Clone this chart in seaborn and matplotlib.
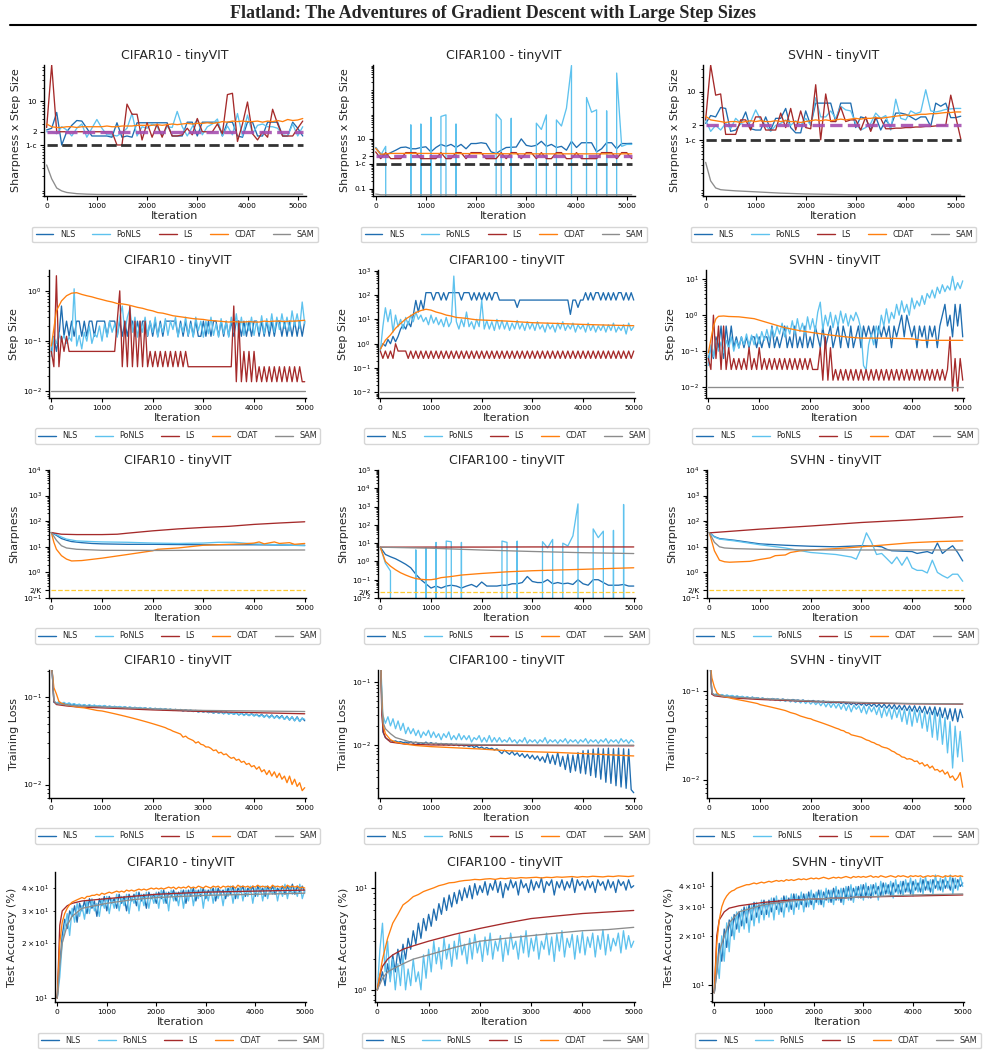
import numpy as np
import matplotlib
matplotlib.use("Agg")
import matplotlib.pyplot as plt
from matplotlib.lines import Line2D
import seaborn as sns

sns.set_style("ticks")
plt.rcParams["font.family"] = ["DejaVu Sans"]
plt.rcParams["axes.edgecolor"] = "black"
plt.rcParams["xtick.color"] = "black"
plt.rcParams["ytick.color"] = "black"
plt.rcParams["axes.linewidth"] = 1.0

SUPTITLE = "Flatland: The Adventures of Gradient Descent with Large Step Sizes"
DATASETS = ["CIFAR10 - tinyVIT", "CIFAR100 - tinyVIT", "SVHN - tinyVIT"]
METHODS = ["NLS", "PoNLS", "LS", "CDAT", "SAM"]
COLORS = {"NLS": "#1f6db0", "PoNLS": "#5ec2ee", "LS": "#a52a2a",
          "CDAT": "#ff7f0e", "SAM": "#8c8c8c"}
YLABELS = ["Sharpness x Step Size", "Step Size", "Sharpness", "Training Loss", "Test Accuracy (%)"]
XTICKS = [0, 1000, 2000, 3000, 4000, 5000]

# iteration grids
R1_ITER = np.arange(0, 5101, 100)
ITER50 = np.arange(0, 5001, 50)
ITER100 = np.arange(0, 5001, 100)

# reference levels
ONE_MINUS_C = 0.99
TWO_LEVEL = 2.0
TWO_OVER_K = [0.2, 0.02, 0.2]

# ---------------- Row 1: sharpness x step size ----------------
R1C1_NLS = [2.2,2.4,5.5,1.0,2.0,2.8,3.6,3.5,2.4,1.6, 1.6,1.6,1.6,1.5,3.2,1.5,1.6,1.5,3.2,3.2,
            3.2,3.2,3.2,3.2,3.2,1.6,1.6,1.6,3.3,3.3, 1.6,3.3,3.3,3.3,3.3,1.6,3.3,3.3,1.6,1.5,
            3.3,3.3,1.6,1.6,3.3,3.3,3.3,1.6,1.6,3.3, 2.4,1.6]
R1C1_PONLS = [2.0,2.0,1.8,2.6,2.2,1.6,2.4,3.0,1.5,2.4, 3.8,2.4,1.7,1.7,1.6,1.9,2.4,5.2,1.6,2.6,
              2.4,3.0,2.6,1.6,2.6,2.5,5.8,2.6,1.6,2.6, 3.8,1.7,2.6,3.0,3.9,1.6,2.7,1.7,5.2,1.6,
              4.8,1.8,2.8,3.0,2.6,2.6,2.4,1.7,1.6,3.0, 1.6,2.6]
R1C1_LS = [2.5,66,2.0,2.0,2.0,2.0,2.0,2.0,2.0,2.0, 2.0,2.0,2.0,2.0,1.0,1.0,8.5,5.0,5.0,1.3,
           3.2,1.5,3.0,1.5,3.0,1.6,1.6,1.7,2.4,1.7, 4.0,2.0,2.0,2.0,3.0,1.8,14,15,1.2,3.0,
           9.5,1.8,1.3,2.0,1.5,6.5,3.0,1.6,1.6,1.6, 2.4,3.5]
R1C1_CDAT = [3.0,2.6,2.5,2.5,2.6,2.6,2.5,2.6,2.6,2.6, 2.6,2.6,2.7,2.6,2.6,2.7,2.7,2.7,2.8,2.8,
             2.8,2.8,2.9,2.8,2.9,3.0,2.9,3.0,3.1,3.0, 3.1,3.1,3.2,3.1,3.2,3.4,3.3,3.5,3.4,3.5,
             3.4,3.4,3.5,3.3,3.5,3.4,3.6,3.4,3.8,3.6, 3.7,4.0]
R1C1_SAM_X = [0,100,200,300,400,600,800,1000,2000,3000,4000,5100]
R1C1_SAM = [0.35,0.17,0.105,0.09,0.083,0.078,0.076,0.075,0.075,0.075,0.077,0.076]

R1C2_NLS = [4.5,2.5,2.2,2.8,3.5,4.5,4.7,4.0,4.0,4.5, 4.8,3.0,4.5,6.0,5.0,6.0,4.5,6.0,4.0,6.5,
            6.5,7.0,6.5,3.0,2.6,3.5,4.5,4.6,4.7,10, 5.5,5.0,5.5,8.0,5.0,6.0,4.5,5.0,3.5,8.0,
            4.5,7.0,7.0,7.0,3.0,4.0,7.0,7.0,4.0,6.5, 6.5,6.6]
R1C2_PONLS = [4.5,2.2,5.0,0,0,0,0,37,0,40, 0,75,0,80,93,0,40,0,0,0,
              0,0,0,0,100,58,0,68,0,0, 0,0,43,24,93,0,58,33,173,9000,
              0,0,465,119,148,0,135,0,4500,5.0, 6.0,6.0]
R1C2_LS = [3.0,1.6,2.8,1.6,1.6,1.6,2.8,2.8,2.8,1.6, 1.6,1.6,1.6,2.8,1.6,1.6,2.8,2.8,1.6,2.8,
           2.8,2.8,1.6,1.6,1.6,2.8,1.6,2.8,2.8,1.6, 2.8,2.8,1.6,2.8,1.6,1.6,2.8,2.8,1.6,1.6,
           2.8,1.6,1.6,1.6,1.6,2.8,2.8,2.8,1.6,2.8, 2.8,1.6]
R1C2_CDAT_X = [0,100,200,300,500,1000,2000,3000,4000,5100]
R1C2_CDAT = [4.2,2.4,2.5,2.6,2.6,2.6,2.55,2.5,2.5,2.5]
R1C2_SAM_X = [0,100,5100]
R1C2_SAM = [0.06,0.056,0.056]

R1C3_NLS = [2.2,3.2,3.0,4.7,4.5,1.5,1.6,2.2,3.8,1.7, 1.6,1.6,3.0,1.6,2.8,2.8,4.5,1.8,1.4,1.4,
            4.0,2.0,5.8,5.8,5.8,5.8,2.4,5.8,5.8,5.8, 1.8,3.0,2.8,1.6,3.0,1.6,2.6,1.9,3.6,3.6,
            3.4,3.0,2.6,3.0,3.0,1.9,5.8,5.0,5.8,2.9, 2.9,3.1]
R1C3_PONLS = [2.6,1.5,2.0,1.6,2.2,1.7,2.8,2.2,2.0,2.4, 4.2,2.6,2.0,1.5,2.0,2.2,2.6,2.0,2.5,2.0,
              2.8,2.0,7.5,3.0,3.0,4.0,2.8,5.0,4.2,4.0, 2.2,1.6,1.8,2.2,3.6,2.8,3.2,1.6,7.0,2.8,
              2.6,4.0,3.5,3.8,11,4.0,3.8,4.0,4.3,4.4, 4.5,4.5]
R1C3_LS = [2.6,36,8.5,9.0,1.3,1.3,1.3,2.6,2.6,1.6, 3.0,3.0,1.6,1.6,1.6,3.6,1.8,4.5,1.6,4.0,
           1.8,1.7,14,1.0,9.0,2.4,2.4,4.8,2.4,2.6, 2.6,1.6,3.0,1.5,2.8,2.8,1.7,1.7,1.75,1.75,
           1.8,1.8,1.85,1.85,1.9,1.9,1.95,2.0,2.0,8.5, 3.0,1.05]
R1C3_CDAT = [3.1,2.6,2.5,2.4,2.3,2.4,2.4,2.3,2.4,2.5, 2.4,2.5,2.4,2.4,2.5,2.4,2.5,2.4,2.4,2.3,
             2.4,2.5,2.6,2.5,2.6,2.5,2.6,2.7,2.6,2.7, 2.8,2.7,2.8,2.8,2.9,2.8,2.9,3.0,3.1,3.2,
             3.3,3.2,3.3,3.4,3.4,3.5,3.5,3.6,3.7,3.7, 3.8,3.8]
R1C3_SAM_X = [0,100,200,300,400,600,1000,1500,2000,3000,4000,5100]
R1C3_SAM = [0.34,0.14,0.1,0.092,0.09,0.087,0.083,0.078,0.075,0.072,0.072,0.071]

# ---------------- Row 2: step size ----------------
R2C1_NLS = ([0.0625,0.125,0.0625,0.125,0.5,0.125,0.25,0.125,0.25,0.125]
            + [0.25,0.25,0.125,0.25,0.125,0.25,0.25,0.125,0.25,0.25]
            + [0.25,0.25,0.125,0.25,0.25,0.25,0.125,0.25,0.125,0.25]
            + [0.125,0.25,0.25,0.125,0.25,0.125,0.25,0.25,0.125,0.25]
            + [0.125,0.25,0.125,0.25,0.125,0.25,0.25,0.25,0.25,0.25]
            + [0.125,0.25,0.125,0.25,0.125,0.25,0.125,0.25,0.125,0.125]
            + [0.25,0.125,0.25,0.125,0.25,0.25,0.125,0.25,0.125,0.25]
            + [0.125,0.25,0.125,0.25,0.25,0.125,0.25,0.125,0.25,0.125]
            + [0.25,0.25,0.125,0.25,0.125,0.25,0.125,0.25,0.125,0.25]
            + [0.25,0.125,0.25,0.125,0.25,0.125,0.25,0.125,0.25,0.125]
            + [0.25])
R2C1_PONLS = ([0.05,0.12,0.09,0.15,0.1,0.13,0.09,0.12,0.1,1.1]
              + [0.08,0.13,0.07,0.15,0.1,0.2,0.09,0.14,0.12,0.2]
              + [0.1,0.22,0.12,0.25,0.15,0.22,0.12,0.3,0.5,0.15]
              + [0.3,0.45,0.15,0.3,0.12,0.25,0.15,0.3,0.13,0.25]
              + [0.15,0.3,0.12,0.22,0.15,0.28,0.13,0.25,0.17,0.3]
              + [0.12,0.22,0.15,0.3,0.13,0.22,0.12,0.3,0.16,0.25]
              + [0.12,0.25,0.14,0.3,0.13,0.22,0.12,0.28,0.14,0.25]
              + [0.12,0.3,0.15,0.35,0.14,0.3,0.13,0.25,0.16,0.3]
              + [0.13,0.25,0.15,0.32,0.14,0.28,0.16,0.35,0.15,0.3]
              + [0.17,0.35,0.18,0.3,0.16,0.4,0.2,0.35,0.18,0.6]
              + [0.22])
R2C1_LS = ([0.0625,0.031,2.0,0.031,0.125,0.0625,0.125,0.0625,0.0625,0.0625]
           + [0.0625] * 10
           + [0.0625] * 6 + [0.25,1.0,0.031,0.25]
           + [0.031,0.5,0.031,0.25,0.031,0.25,0.031,0.25,0.031,0.0625]
           + [0.031,0.0625,0.031,0.0625,0.031,0.0625,0.031,0.0625,0.031,0.0625]
           + [0.031,0.0625,0.031,0.0625,0.031,0.031,0.031,0.031,0.031,0.031]
           + [0.031] * 10
           + [0.031,0.031,0.5,0.0156,0.25,0.0156,0.0625,0.0156,0.0625,0.0156]
           + [0.0625,0.0156,0.031,0.0156,0.031,0.0156,0.031,0.0156,0.031,0.0156]
           + [0.031,0.0156,0.031,0.0156,0.031,0.0156,0.031,0.0156,0.031,0.0156]
           + [0.0156])
R2C1_CDAT = [0.08,0.4,0.63,0.8,0.9,0.92,0.85,0.8,0.76,0.71, 0.67,0.63,0.6,0.56,0.55,0.53,0.5,0.47,0.45,0.42,
             0.4,0.37,0.36,0.34,0.32,0.31,0.3,0.29,0.28,0.275, 0.27,0.26,0.255,0.25,0.245,0.24,0.245,0.24,0.24,0.245,
             0.24,0.24,0.25,0.245,0.25,0.25,0.245,0.25,0.25,0.255, 0.26]
R2C1_SAM = [0.01, 0.01]

R2C2_NLS = ([0.6,1.0,0.8,1.5,1.0,2.0,1.2,2.0,4.0,6.0]
            + [4.0,8.0,5.0,15,60,20,60,25,125,125]
            + [125,62,125,125,62,125,62,125,125,125]
            + [125,125,62,125,125,125,62,125,62,125]
            + [62,125,62,125,62,125,125,62,62,62]
            + [62,62,62,62,31,62,62,62,62,62]
            + [62] * 10
            + [62,62,62,62,62,16,62,62,31,62]
            + [62,125,62,125,62,125,125,62,125,62]
            + [125,62,125,62,125,125,62,125,62,125]
            + [62])
R2C2_PONLS = ([0.5,5,30,8,25,3,15,5,10,4]
              + [12,6,15,8,20,10,15,8,12,6]
              + [15,7,12,6,10,5,12,5,8,600]
              + [8,4,10,5,20,5,8,4,10,5]
              + [60,4,9,4,8,3.5,10,4,9,4]
              + [8,3.5,7,4,9,4,7,3.5,8,4]
              + [7,3.5,8,4,6,3,7,4,6,3]
              + [7,4,8,3.5,6,4,7,3,6,4]
              + [6,3,7,3.5,6,3,5.5,3.5,6,3]
              + [6,3.5,7,3,5,3.5,6,2.5,7,3.5]
              + [5])
R2C2_LS = [0.5,0.25,0.5,0.25,0.5,0.25,1.0,0.5,0.5,0.5,0.5,0.25] + [0.5,0.25] * 44 + [0.5]
R2C2_CDAT_X = [0,100,200,300,400,500,600,700,800,900,1000,1100,1200,1300,1400,1500,1600,1700,1800,1900,
               2500,3000,3500,4000,4500,5000]
R2C2_CDAT = [0.6,1.4,2.3,4.3,6.8,10.3,14,19,23,26,24,20,17.7,15,13.7,12,11.5,11,10.2,9.6,
             8.5,7.3,6.8,6.2,5.8,5.5]
R2C2_SAM = [0.01, 0.01]

R2C3_NLS = ([0.0625,0.125,0.0625,0.25,0.125,0.5,0.0625,0.5,0.125,0.5]
            + [0.125,0.25,0.125,0.25,0.125,0.25,0.125,0.25,0.25,0.125]
            + [0.25,0.125,0.25,0.25,0.125,0.5,0.125,0.25,0.125,0.25]
            + [0.5,0.125,0.25,0.125,0.5,0.125,0.25,0.125,0.5,0.125]
            + [0.25,0.125,0.5,0.25,0.125,0.5,0.125,0.25,0.5,0.125]
            + [0.25,0.5,0.125,0.5,0.25,0.125,0.5,0.125,0.25,0.5]
            + [0.125,0.5,0.25,0.5,0.25,0.5,0.125,0.5,0.25,0.5]
            + [0.25,0.5,0.125,0.5,0.25,0.5,1.0,0.25,1.0,0.5]
            + [0.25,0.5,0.125,0.5,0.25,0.5,0.125,0.5,0.25,0.5]
            + [0.125,0.5,1.0,2.0,0.5,1.0,0.25,2.0,0.5,2.0]
            + [0.25])
R2C3_PONLS = ([0.04,0.15,0.07,0.2,0.1,0.18,0.09,0.2,0.12,0.25]
              + [0.1,0.2,0.12,0.25,0.15,0.3,0.14,0.28,0.15,0.3]
              + [0.16,0.35,0.2,0.4,0.2,0.45,0.25,0.5,0.3,0.6]
              + [0.25,0.5,0.3,0.7,0.3,0.8,0.35,0.6,0.3,0.9]
              + [0.4,0.8,0.35,1.2,2.3,0.4,1.0,0.5,1.2,0.45]
              + [1.0,0.5,1.3,0.6,1.1,0.5,1.0,0.7,1.2,0.8]
              + [0.4,0.04,0.03,0.15,0.3,0.15,0.5,0.3,1.0,0.5]
              + [1.5,0.6,1.2,0.8,2.0,1.0,2.5,1.2,2.0,1.0]
              + [3.0,1.5,2.5,1.8,3.5,2.0,4.0,3.0,5.0,3.0]
              + [6.0,4.0,7.0,4.5,6.5,5.0,12,5.0,8.0,5.5]
              + [9.0])
R2C3_LS = ([0.0625,0.031,1.0,0.0625,0.5,0.031,0.5,0.031,0.125,0.031]
           + [0.0625,0.031,0.0625,0.031,0.0625,0.031,0.125,0.031,0.0625,0.031]
           + [0.125,0.031,0.0625,0.031,0.0625,0.031,0.0625,0.031,0.0625,0.031]
           + [0.0625,0.031,0.0625,0.031,0.0625,0.031,0.0625,0.031,0.0625,0.031]
           + [0.0625,0.031,0.031,0.031,0.125,0.0156,0.25,0.0156,0.125,0.0156]
           + [0.031,0.0156] * 22 + [0.031]
           + [0.25,0.0078,0.0625,0.0078,0.0625,0.0156])
R2C3_CDAT_X = [0,100,150,200,300,400,600,900,1200,1500,1800,2100,2400,2700,3000,3500,4000,4200,4500,5000]
R2C3_CDAT = [0.09,0.5,0.8,0.93,0.95,0.92,0.9,0.8,0.6,0.45,0.37,0.32,0.28,0.25,0.23,0.23,0.22,0.2,0.2,0.2]
R2C3_SAM = [0.01, 0.01]
SAM_X = [0, 5000]

# ---------------- Row 3: sharpness ----------------
R3C1_LS_X = [0,200,500,1000,1300,1500,2000,2500,3000,3500,4000,4500,5000]
R3C1_LS = [36,31,30,30,31,34,42,50,57,63,75,85,95]
R3C1_NLS_X = [0,100,200,300,400,600,800,1000,1500,2000,3000,4000,5000]
R3C1_NLS = [36,28,21,18,16,14.5,13.5,13,12.5,12.5,12,12,11.5]
R3C1_PONLS_X = [0,100,200,300,500,800,1000,1500,2000,2500,3000,3300,3600,4000,4500,5000]
R3C1_PONLS = [36,30,24,20,17,16,15.5,15,14,13.5,14,15,15,13,12,11]
R3C1_CDAT_X = [0,50,100,200,300,400,600,1000,1500,2000,2100,2500,3000,3500,3800,4000,4100,4200,4400,4500,4700,4800,5000]
R3C1_CDAT = [36,15,8,4.5,3.3,2.8,2.9,3.6,5,7,8,9,11.5,12.5,13,14,15.5,13,15.5,13.5,14.5,12.5,13.5]
R3C1_SAM_X = [0,100,200,300,500,1000,2000,5000]
R3C1_SAM = [36,18,11,9,8,7.3,7.2,7.5]

R3C2_LS_X = [0,1000,2000,3000,4000,5000]
R3C2_LS = [6.0,6.1,6.1,6.2,6.2,6.2]
R3C2_SAM_X = [0,1000,2000,3000,4000,5000]
R3C2_SAM = [6.0,5.3,4.2,3.5,3.0,2.7]
R3C2_CDAT_X = [0,100,200,300,400,500,600,700,800,900,1000,1100,1200,1400,1600,2000,2500,3000,3500,4000,4500,5000]
R3C2_CDAT = [6,1.0,0.55,0.35,0.24,0.18,0.14,0.115,0.105,0.1,0.1,0.11,0.13,0.15,0.18,0.22,0.27,0.31,0.34,0.37,0.41,0.45]
R3C2_NLS = [6,2.4,1.8,1.4,1.0,0.7,0.45,0.2,0.1,0.06, 0.035,0.045,0.035,0.045,0.05,0.045,0.035,0.045,0.055,0.04,
            0.075,0.045,0.045,0.045,0.05,0.05,0.06,0.06,0.07,0.15, 0.08,0.07,0.07,0.1,0.06,0.07,0.06,0.065,0.055,0.1,
            0.06,0.05,0.1,0.1,0.07,0.05,0.05,0.05,0.055,0.045, 0.045]
R3C2_PONLS = [6,0.8,0.3,0,0,0,0,4.3,0,5.5, 0,11,0,13,12,0,11,0,0,0,
              0,0,0,0,13,11,0,13,0,0, 0,0,12,5.5,16,0,10,7,25,1400,
              0,0,60,20,45,0,50,0,1300,0, 0]

R3C3_LS_X = [0,1000,2000,3000,4000,5000]
R3C3_LS = [35,49,65,89,113,150]
R3C3_NLS_X = [0,100,200,500,1000,1500,2000,2500,3000,3300,3400,3500,3600,4000,4100,4200,4300,4400,4500,4600,4700,4800,4900,5000]
R3C3_NLS = [36,25,21,18,13,11.5,10.5,10,11,10.5,10,8,7,6.5,5.5,6,6.5,5.5,14,5.5,8,11,6,2.8]
R3C3_PONLS_X = [0,100,200,500,1000,1500,2000,2500,2700,2800,2900,3000,3100,3200,3300,3400,3500,3600,3700,3800,
                3900,4000,4100,4200,4300,4400,4500,4600,4700,4800,4900,5000]
R3C3_PONLS = [36,24,20,17,12,9,6,5,4.3,4,3.3,9,35,15,5,5.5,3.5,2.2,4,1.9,
              4,1.5,1.2,1.2,0.95,3,1.0,0.75,0.6,0.85,0.85,0.45]
R3C3_CDAT_X = [0,100,200,300,400,600,800,1000,1200,1300,1500,1600,1800,2000,2500,3000,3500,4000,4500,5000]
R3C3_CDAT = [36,7,3,2.6,2.5,2.6,2.7,3.2,3.7,4.5,4.8,6,7,7.5,8.5,10,12,14.5,16,17]
R3C3_SAM_X = [0,100,200,300,500,1000,2000,5000]
R3C3_SAM = [36,15,10,9,8.5,8,7.5,7.5]

# ---------------- Row 4: training loss ----------------
R4C1_NLS = ([0.3,0.088,0.086,0.087,0.084,0.086,0.083,0.085,0.082,0.084]
            + [0.081,0.083,0.080,0.082,0.080,0.081,0.079,0.081,0.079,0.080]
            + [0.078,0.080,0.078,0.079,0.077,0.079,0.077,0.078,0.076,0.078]
            + [0.076,0.077,0.075,0.077,0.075,0.076,0.074,0.076,0.074,0.075]
            + [0.073,0.075,0.073,0.074,0.072,0.074,0.072,0.073,0.071,0.073]
            + [0.071,0.072,0.070,0.072,0.070,0.071,0.069,0.071,0.068,0.070]
            + [0.068,0.070,0.067,0.069,0.066,0.069,0.066,0.068,0.065,0.068]
            + [0.065,0.067,0.064,0.067,0.063,0.066,0.063,0.065,0.062,0.065]
            + [0.062,0.064,0.061,0.064,0.060,0.063,0.059,0.063,0.058,0.062]
            + [0.058,0.062,0.056,0.061,0.055,0.060,0.054,0.060,0.053,0.058]
            + [0.054])
R4C1_PONLS = ([0.3,0.09,0.087,0.089,0.085,0.088,0.084,0.087,0.083,0.085]
              + [0.082,0.084,0.081,0.083,0.080,0.083,0.080,0.082,0.079,0.081]
              + [0.079,0.081,0.078,0.080,0.078,0.079,0.077,0.079,0.077,0.078]
              + [0.076,0.078,0.076,0.077,0.075,0.077,0.075,0.076,0.074,0.076]
              + [0.074,0.075,0.073,0.075,0.073,0.074,0.072,0.074,0.071,0.073]
              + [0.071,0.073,0.070,0.072,0.070,0.072,0.069,0.071,0.068,0.071]
              + [0.068,0.070,0.067,0.070,0.066,0.069,0.066,0.068,0.065,0.068]
              + [0.064,0.067,0.064,0.066,0.063,0.066,0.062,0.065,0.062,0.065]
              + [0.061,0.064,0.060,0.063,0.059,0.063,0.058,0.062,0.058,0.061]
              + [0.057,0.061,0.056,0.060,0.055,0.060,0.054,0.059,0.053,0.058]
              + [0.056])
R4C1_LS_X = [0,50,100,300,500,1000,2000,3000,4000,5000]
R4C1_LS = [0.3,0.09,0.083,0.08,0.078,0.076,0.072,0.069,0.067,0.065]
R4C1_SAM_X = [0,50,100,300,500,1000,2000,3000,4000,5000]
R4C1_SAM = [0.3,0.092,0.085,0.082,0.08,0.078,0.074,0.071,0.07,0.069]
R4C1_CDAT = ([0.25,0.13,0.11,0.09,0.086,0.084,0.082,0.081,0.08,0.079]
             + [0.078,0.077,0.0765,0.076,0.075,0.074,0.073,0.072,0.071,0.0705]
             + [0.070,0.069,0.068,0.067,0.066,0.065,0.064,0.063,0.062,0.061]
             + [0.060,0.059,0.058,0.057,0.056,0.055,0.054,0.053,0.052,0.051]
             + [0.050,0.049,0.048,0.047,0.046,0.045,0.0435,0.0425,0.041,0.040]
             + [0.039,0.038,0.035,0.036,0.034,0.033,0.032,0.030,0.031,0.029]
             + [0.0285,0.027,0.027,0.026,0.0245,0.025,0.023,0.0235,0.022,0.0225]
             + [0.021,0.020,0.0205,0.019,0.0195,0.018,0.0185,0.017,0.0175,0.016]
             + [0.0165,0.015,0.016,0.014,0.0148,0.013,0.0145,0.0125,0.014,0.012]
             + [0.0135,0.0115,0.0125,0.0105,0.0125,0.010,0.0115,0.0095,0.0105,0.0085]
             + [0.0092])

R4C2_SAM_X = [0,30,60,100,200,300,600,1000,1500,2000,3000,4000,5000]
R4C2_SAM = [0.3,0.04,0.022,0.018,0.015,0.013,0.011,0.0105,0.0102,0.01,0.0099,0.0098,0.0098]
R4C2_LS_X = [0,30,60,100,200,500,1000,2000,3000,5000]
R4C2_LS = [0.3,0.03,0.016,0.013,0.011,0.0102,0.0099,0.0098,0.0097,0.0096]
R4C2_CDAT_X = [0,30,60,100,200,300,500,700,1000,1500,2000,2500,3000,3500,4000,4500,5000]
R4C2_CDAT = [0.3,0.05,0.02,0.015,0.012,0.011,0.0102,0.0097,0.0093,0.0089,0.0085,0.008,0.0077,0.0075,0.0072,0.0069,0.0066]
R4C2_PONLS = ([0.3,0.03,0.022,0.028,0.02,0.026,0.018,0.024,0.017,0.022]
              + [0.015,0.019,0.015,0.018,0.014,0.017,0.013,0.016,0.014,0.017]
              + [0.013,0.016,0.013,0.015,0.012,0.015,0.013,0.016,0.012,0.014]
              + [0.012,0.015,0.012,0.014,0.012,0.014,0.011,0.013,0.012,0.014]
              + [0.011,0.013,0.011,0.014,0.011,0.013,0.011,0.013,0.011,0.012]
              + [0.011,0.013,0.011,0.012,0.0105,0.012,0.011,0.013,0.0105,0.012]
              + [0.011,0.012,0.0105,0.012,0.011,0.013,0.0105,0.012,0.011,0.012]
              + [0.0105,0.012,0.011,0.0125,0.0105,0.012,0.011,0.012,0.0105,0.012]
              + [0.011,0.0125,0.0105,0.012,0.011,0.012,0.0105,0.012,0.011,0.0125]
              + [0.0105,0.012,0.011,0.012,0.0105,0.0125,0.011,0.012,0.0105,0.012]
              + [0.011])
R4C2_NLS = ([0.3,0.016,0.013,0.012,0.0118,0.0112,0.0115,0.011,0.0112,0.0108]
            + [0.011,0.0106,0.0112,0.0105,0.011,0.0104,0.0108,0.0103,0.011,0.0102]
            + [0.0108,0.0102,0.0106,0.01,0.0105,0.0099,0.0104,0.0098,0.0103,0.0097]
            + [0.0102,0.0096,0.01,0.0095,0.0098,0.0093,0.0097,0.009,0.0095,0.0088]
            + [0.0092,0.0086,0.009,0.0085,0.0088,0.0082,0.0086,0.0078,0.0072,0.0082]
            + [0.0075,0.007,0.0078,0.0068,0.0074,0.0065,0.0072,0.0062,0.007,0.006]
            + [0.0068,0.0058,0.0066,0.0055,0.0064,0.0052,0.0072,0.005,0.0068,0.0048]
            + [0.0075,0.0045,0.0065,0.004,0.007,0.0036,0.0068,0.0038,0.0075,0.0035]
            + [0.008,0.0034,0.0082,0.0032,0.0085,0.003,0.0088,0.0028,0.0086,0.0025]
            + [0.0088,0.0024,0.0086,0.0022,0.0088,0.0021,0.0086,0.002,0.0085,0.0019]
            + [0.0017])

R4C3_SAM_X = [0,50,100,300,500,1000,2000,3000,4000,5000]
R4C3_SAM = [0.3,0.095,0.09,0.087,0.085,0.082,0.077,0.074,0.072,0.0715]
R4C3_LS_X = [0,50,100,300,500,1000,2000,3000,4000,5000]
R4C3_LS = [0.3,0.092,0.088,0.085,0.083,0.08,0.076,0.073,0.0715,0.071]
R4C3_CDAT = ([0.25,0.14,0.11,0.095,0.09,0.088,0.086,0.085,0.084,0.082]
             + [0.081,0.080,0.079,0.078,0.077,0.076,0.075,0.074,0.073,0.072]
             + [0.070,0.069,0.068,0.067,0.066,0.065,0.064,0.063,0.062,0.061]
             + [0.060,0.0585,0.057,0.056,0.055,0.0535,0.052,0.051,0.050,0.049]
             + [0.0485,0.047,0.046,0.045,0.044,0.043,0.042,0.041,0.040,0.039]
             + [0.038,0.0372,0.036,0.0355,0.034,0.0335,0.032,0.0315,0.031,0.0305]
             + [0.030,0.029,0.028,0.0275,0.0265,0.026,0.025,0.0245,0.0235,0.023]
             + [0.0227,0.022,0.021,0.0205,0.0195,0.019,0.018,0.0178,0.017,0.0172]
             + [0.0168,0.016,0.0162,0.015,0.0155,0.0142,0.0148,0.0135,0.0142,0.0128]
             + [0.013,0.0122,0.0128,0.0115,0.0122,0.0105,0.011,0.0098,0.0105,0.012]
             + [0.0082])
R4C3_NLS = ([0.3,0.092,0.09,0.091,0.088,0.09,0.087,0.089,0.086,0.088]
            + [0.085,0.087,0.084,0.086,0.083,0.085,0.082,0.085,0.082,0.084]
            + [0.081,0.083,0.081,0.082,0.08,0.082,0.08,0.081,0.079,0.081]
            + [0.079,0.08,0.078,0.08,0.078,0.079,0.077,0.079,0.076,0.078]
            + [0.076,0.078,0.075,0.077,0.075,0.077,0.074,0.076,0.073,0.076]
            + [0.073,0.075,0.072,0.075,0.071,0.074,0.07,0.074,0.069,0.073]
            + [0.069,0.073,0.068,0.072,0.067,0.072,0.066,0.071,0.065,0.071]
            + [0.064,0.07,0.063,0.07,0.062,0.069,0.061,0.069,0.06,0.068]
            + [0.059,0.068,0.058,0.067,0.057,0.067,0.055,0.066,0.054,0.066]
            + [0.052,0.065,0.05,0.064,0.048,0.063,0.046,0.063,0.045,0.062]
            + [0.05])
R4C3_PONLS = ([0.3,0.094,0.091,0.093,0.089,0.091,0.088,0.09,0.087,0.089]
              + [0.086,0.088,0.085,0.087,0.084,0.086,0.083,0.085,0.082,0.084]
              + [0.081,0.083,0.08,0.082,0.079,0.082,0.078,0.081,0.077,0.08]
              + [0.076,0.08,0.075,0.079,0.074,0.078,0.073,0.078,0.072,0.077]
              + [0.071,0.076,0.07,0.075,0.068,0.075,0.066,0.074,0.065,0.073]
              + [0.064,0.072,0.062,0.071,0.06,0.07,0.058,0.069,0.062,0.068]
              + [0.057,0.068,0.055,0.067,0.058,0.066,0.054,0.066,0.05,0.065]
              + [0.052,0.064,0.048,0.064,0.05,0.063,0.045,0.062,0.042,0.062]
              + [0.04,0.061,0.044,0.06,0.038,0.058,0.035,0.057,0.03,0.06]
              + [0.028,0.055,0.025,0.05,0.02,0.045,0.0135,0.04,0.018,0.035]
              + [0.016])

# ---------------- Row 5: test accuracy ----------------
R5C1_CDAT = ([10,20,26,29,31,32.5,33.5,34,34.5,35]
             + [35.5,35,36,36,36.5,36.5,37,36.5,37.5,37]
             + [37.5,38,37.5,38,38.5,38,38.5,38,39,38.5]
             + [39,38.5,39,39.5,39,39.5,39,39.5,40,39.5]
             + [40,39.5,40,39.5,40,40.5,40,40.5,39.5,40.5]
             + [40,40.5,40,41,40,40.5,40,41,40.5,40]
             + [41,40.5,40,41,40.5,41,40,41,40.5,41]
             + [40.5,41,40,41.5,40.5,41,40.5,41,40,41]
             + [40.5,41.5,40.5,41,40.5,41,40,41.5,40.5,41]
             + [40.5,41,40,41.5,40.5,41,40.5,41,40,40.5]
             + [40])
R5C1_NLS = ([10,15,22,27,24,30,28,32,26,33]
            + [30,34,29,35,31,34,28,35,32,36]
            + [30,36,33,35,31,37,33,36,30,37]
            + [34,37,32,38,34,37,31,38,35,37]
            + [33,38,35,39,33,38,36,39,34,38]
            + [36,39,33,39,36,40,34,39,36,40]
            + [35,39,37,40,34,40,37,39,35,40]
            + [37,41,35,40,38,41,36,40,38,41]
            + [36,41,38,40,36,41,38,41,37,40]
            + [38,41,37,41,38,42,37,41,38,41]
            + [38])
R5C1_PONLS = ([10,13,20,24,29,22,31,26,33,28]
              + [32,27,34,29,35,30,33,28,35,31]
              + [36,29,35,31,37,30,36,32,37,29]
              + [36,33,38,30,37,32,38,31,37,33]
              + [38,31,39,33,38,30,39,34,38,32]
              + [39,31,39,34,40,32,39,35,40,31]
              + [39,34,40,33,40,35,39,32,40,36]
              + [41,33,40,35,41,34,40,36,41,33]
              + [40,36,41,34,41,35,40,37,41,34]
              + [40,36,42,35,41,37,40,36,42,35]
              + [39])
R5C1_LS_X = [0,50,100,200,300,500,1000,1500,2000,3000,4000,5000]
R5C1_LS = [10,25,30,32,33,34,35,36,37,38,38.5,39]
R5C1_SAM_X = [0,50,100,200,300,500,1000,1500,2000,3000,4000,5000]
R5C1_SAM = [10,15,20,25,28,31,33,34.5,35.5,36.5,37,37.5]

R5C2_CDAT = [1.0,2.0,3.2,4.5,5.5,6.8,7.4,8.2,8.6,9.2, 9.6,10.0,10.5,10.8,11.2,11.3,11.6,11.8,11.9,12.1,
             12.0,12.2,12.3,12.1,12.4,12.3,12.5,12.4,12.6,12.5, 12.6,12.7,12.5,12.7,12.6,12.8,12.7,12.8,12.9,12.7,
             12.9,12.8,13.0,12.9,12.8,13.0,12.9,13.1,13.0,12.9, 13.1]
R5C2_NLS = ([1.0,1.2,1.5,1.1,1.8,1.3,2.2,1.5,2.5,1.8]
            + [2.8,2.0,3.2,2.5,3.8,2.8,4.5,3.2,5.0,3.8]
            + [5.5,4.2,6.2,4.8,7.0,5.5,8.0,6.0,8.5,6.5]
            + [9.0,7.0,9.5,7.5,10.0,8.0,10.5,7.8,11.0,8.5]
            + [10.5,9.0,11.5,8.5,11.0,9.5,12.0,9.0,11.5,8.0]
            + [11.0,9.5,12.0,10.0,11.5,8.5,12.0,10.0,11.0,9.0]
            + [12.0,9.5,11.5,10.0,12.5,9.0,11.5,10.5,12.0,8.5]
            + [11.5,10.0,12.0,9.5,11.5,10.0,12.5,9.0,12.0,10.5]
            + [11.5,9.5,12.0,10.0,11.5,9.0,12.0,10.5,11.5,9.5]
            + [12.0,10.0,11.5,9.0,12.0,10.5,11.5,9.5,12.0,10.0]
            + [10.5])
R5C2_PONLS = ([1.0,2.5,4.5,1.5,3.0,1.2,2.0,1.0,1.8,1.1]
              + [2.2,1.0,1.6,1.1,2.0,1.2,1.5,1.0,2.2,1.3]
              + [2.5,1.5,3.0,1.8,2.6,1.6,3.2,2.0,2.8,1.7]
              + [3.0,2.0,3.5,2.2,2.8,1.8,3.2,2.0,3.5,2.3]
              + [3.0,1.9,3.3,2.2,3.6,2.0,3.0,2.4,3.4,1.9]
              + [3.1,2.2,3.6,2.5,3.0,2.0,3.4,2.3,3.8,2.1]
              + [3.2,2.4,3.5,2.0,3.0,2.5,3.6,2.2,3.3,1.9]
              + [3.5,2.4,3.8,2.1,3.2,2.6,3.5,2.0,3.4,2.3]
              + [3.7,2.2,3.3,2.6,3.6,2.1,3.4,2.5,3.9,2.2]
              + [3.5,2.4,3.2,2.7,3.6,2.3,3.8,2.5,3.4,2.6]
              + [3.0])
R5C2_LS_X = [0,50,100,200,300,500,700,1000,1500,2000,2500,3000,3500,4000,4500,5000]
R5C2_LS = [1.0,1.4,1.7,2.0,2.2,2.5,2.7,3.0,3.5,4.0,4.5,5.0,5.3,5.6,5.8,6.0]
R5C2_SAM_X = [0,100,200,300,500,700,1000,1500,2000,2500,3000,3500,4000,4500,5000]
R5C2_SAM = [1.0,1.3,1.5,1.6,1.8,2.0,2.2,2.6,3.0,3.2,3.4,3.6,3.8,3.9,4.1]

R5C3_CDAT = ([9,18,25,30,33,35,36.5,37.5,38,39]
             + [39.5,40,40.5,41,41,41.5,42,41.5,42,42.5]
             + [42,42.5,43,42.5,43,43.5,43,43.5,43,44]
             + [43.5,44,43.5,44,44.5,44,44.5,44,44.5,45]
             + [44.5,45,44.5,45,45.5,45,44.5,45,45.5,45]
             + [45.5,45,45.5,46,45.5,45,46,45.5,46,45.5]
             + [46,45.5,46,46.5,45.5,46,45.5,46.5,46,45.5]
             + [46,46.5,46,45.5,46.5,46,46.5,46,45.5,46.5]
             + [46,46.5,46,46.5,45.5,46,46.5,46,46.5,46]
             + [46.5,46,45.5,46.5,46,46.5,46,46.5,46,46.5]
             + [46])
R5C3_NLS = ([9,12,18,14,22,17,25,20,27,22]
            + [28,23,30,24,31,25,32,26,31,27]
            + [33,27,33,28,34,29,33,28,35,30]
            + [34,29,36,30,35,31,36,30,37,31]
            + [36,32,38,31,37,33,38,32,39,33]
            + [38,32,39,34,40,33,39,35,40,34]
            + [41,35,40,34,41,36,40,35,42,36]
            + [41,35,42,37,41,36,43,37,42,36]
            + [43,38,42,37,44,38,43,37,44,39]
            + [43,38,44,39,43,38,45,39,44,40]
            + [42])
R5C3_PONLS = ([9,15,11,20,14,24,16,26,19,28]
              + [21,29,22,30,21,31,23,32,24,33]
              + [25,32,26,34,25,35,27,34,26,35]
              + [28,36,27,36,29,37,28,36,30,38]
              + [29,37,31,38,30,39,32,38,31,40]
              + [33,39,31,40,33,41,32,40,34,41]
              + [33,42,34,41,35,42,33,43,35,42]
              + [36,43,34,44,36,43,35,44,37,45]
              + [35,44,37,45,36,46,38,44,36,47]
              + [38,45,37,46,39,47,36,45,38,46]
              + [40])
R5C3_LS_X = [0,50,100,200,300,500,1000,1500,2000,3000,4000,5000]
R5C3_LS = [9,20,25,28,29.5,30.5,32,33,33.5,34.5,35,35.5]
R5C3_SAM_X = [0,50,100,200,300,500,1000,1500,2000,3000,4000,5000]
R5C3_SAM = [9,12,16,20,24,28,31,32.5,33.5,34.5,35.5,36]

# ---------------- panel assembly ----------------
def S(nls, ponls, ls, cdat, sam):
    return {"NLS": nls, "PoNLS": ponls, "LS": ls, "CDAT": cdat, "SAM": sam}

SERIES = [
    [S((R1_ITER, R1C1_NLS), (R1_ITER, R1C1_PONLS), (R1_ITER, R1C1_LS), (R1_ITER, R1C1_CDAT), (R1C1_SAM_X, R1C1_SAM)),
     S((R1_ITER, R1C2_NLS), (R1_ITER, R1C2_PONLS), (R1_ITER, R1C2_LS), (R1C2_CDAT_X, R1C2_CDAT), (R1C2_SAM_X, R1C2_SAM)),
     S((R1_ITER, R1C3_NLS), (R1_ITER, R1C3_PONLS), (R1_ITER, R1C3_LS), (R1_ITER, R1C3_CDAT), (R1C3_SAM_X, R1C3_SAM))],
    [S((ITER50, R2C1_NLS), (ITER50, R2C1_PONLS), (ITER50, R2C1_LS), (ITER100, R2C1_CDAT), (SAM_X, R2C1_SAM)),
     S((ITER50, R2C2_NLS), (ITER50, R2C2_PONLS), (ITER50, R2C2_LS), (R2C2_CDAT_X, R2C2_CDAT), (SAM_X, R2C2_SAM)),
     S((ITER50, R2C3_NLS), (ITER50, R2C3_PONLS), (ITER50, R2C3_LS), (R2C3_CDAT_X, R2C3_CDAT), (SAM_X, R2C3_SAM))],
    [S((R3C1_NLS_X, R3C1_NLS), (R3C1_PONLS_X, R3C1_PONLS), (R3C1_LS_X, R3C1_LS), (R3C1_CDAT_X, R3C1_CDAT), (R3C1_SAM_X, R3C1_SAM)),
     S((ITER100, R3C2_NLS), (ITER100, R3C2_PONLS), (R3C2_LS_X, R3C2_LS), (R3C2_CDAT_X, R3C2_CDAT), (R3C2_SAM_X, R3C2_SAM)),
     S((R3C3_NLS_X, R3C3_NLS), (R3C3_PONLS_X, R3C3_PONLS), (R3C3_LS_X, R3C3_LS), (R3C3_CDAT_X, R3C3_CDAT), (R3C3_SAM_X, R3C3_SAM))],
    [S((ITER50, R4C1_NLS), (ITER50, R4C1_PONLS), (R4C1_LS_X, R4C1_LS), (ITER50, R4C1_CDAT), (R4C1_SAM_X, R4C1_SAM)),
     S((ITER50, R4C2_NLS), (ITER50, R4C2_PONLS), (R4C2_LS_X, R4C2_LS), (R4C2_CDAT_X, R4C2_CDAT), (R4C2_SAM_X, R4C2_SAM)),
     S((ITER50, R4C3_NLS), (ITER50, R4C3_PONLS), (R4C3_LS_X, R4C3_LS), (ITER50, R4C3_CDAT), (R4C3_SAM_X, R4C3_SAM))],
    [S((ITER50, R5C1_NLS), (ITER50, R5C1_PONLS), (R5C1_LS_X, R5C1_LS), (ITER50, R5C1_CDAT), (R5C1_SAM_X, R5C1_SAM)),
     S((ITER50, R5C2_NLS), (ITER50, R5C2_PONLS), (R5C2_LS_X, R5C2_LS), (ITER100, R5C2_CDAT), (R5C2_SAM_X, R5C2_SAM)),
     S((ITER50, R5C3_NLS), (ITER50, R5C3_PONLS), (R5C3_LS_X, R5C3_LS), (ITER50, R5C3_CDAT), (R5C3_SAM_X, R5C3_SAM))],
]

YLIMS = [[(0.069, 66), (0.05, 9500), (0.068, 36)],
         [(0.0074, 2.6), (0.0059, 1065), (0.005, 18)],
         [(0.1, 1e4), (0.01, 1e5), (0.1, 1e4)],
         [(0.007, 0.207), (0.0014, 0.157), (0.0062, 0.172)],
         [(9.5, 49), (0.76, 14.3), (7.9, 49)]]

# layout (pixels)
W, H = 986, 1053
LEFTS = [[44, 373, 703], [49, 378, 706], [49, 378, 707], [49, 378, 707], [55, 375, 712]]
RIGHTS = [306, 635, 964]
TOPS = [65, 270, 470, 670, 872]
BOTTOMS = [196, 398, 598, 798, 1002]

fig = plt.figure(figsize=(W / 100, H / 100), dpi=100)

def draw_series(ax, xy, name):
    x, y = xy
    n = min(len(x), len(y))
    sns.lineplot(x=np.asarray(x[:n], dtype=float), y=np.asarray(y[:n], dtype=float), ax=ax,
                 color=COLORS[name], linewidth=0.95, estimator=None, sort=False, legend=False)

for r in range(5):
    for c in range(3):
        l, rt, t, b = LEFTS[r][c], RIGHTS[c], TOPS[r], BOTTOMS[r]
        ax = fig.add_axes([l / W, 1 - b / H, (rt - l) / W, (b - t) / H])
        series = SERIES[r][c]
        for m in METHODS:
            draw_series(ax, series[m], m)
        ax.set_yscale("log")
        ax.set_ylim(*YLIMS[r][c])
        if r == 0:
            ax.set_xlim(-53, 5165)
            xr = (R1_ITER[0], R1_ITER[-1])
            ax.hlines(TWO_LEVEL, xr[0], xr[1], colors="#a54fb0", linestyles="--", linewidth=2.4, alpha=0.9, zorder=3)
            ax.hlines(ONE_MINUS_C, xr[0], xr[1], colors="#333333", linestyles="--", linewidth=2.0, zorder=3)
            if c == 1:
                ax.set_yticks([0.1, ONE_MINUS_C, TWO_LEVEL, 10], labels=["0.1", "1-c", "2", "10"])
            else:
                ax.set_yticks([ONE_MINUS_C, TWO_LEVEL, 10], labels=["1-c", "2", "10"])
        else:
            ax.set_xlim(-46, 5025)
        if r == 2:
            k2 = TWO_OVER_K[c]
            ax.hlines(k2, ITER50[0], ITER50[-1], colors="#ffcc33", linestyles="--", linewidth=0.9, zorder=3)
            if c == 1:
                ticks = [0.01, k2, 0.1, 1, 10, 1e2, 1e3, 1e4, 1e5]
                labels = [r"$10^{-2}$", "2/K", r"$10^{-1}$", r"$10^{0}$", r"$10^{1}$", r"$10^{2}$",
                          r"$10^{3}$", r"$10^{4}$", r"$10^{5}$"]
            else:
                ticks = [0.1, k2, 1, 10, 1e2, 1e3, 1e4]
                labels = [r"$10^{-1}$", "2/K", r"$10^{0}$", r"$10^{1}$", r"$10^{2}$", r"$10^{3}$", r"$10^{4}$"]
            ax.set_yticks(ticks, labels=labels)
        ax.set_xticks(XTICKS)
        ax.tick_params(axis="both", which="major", labelsize=5.4, length=3, width=0.8, pad=2)
        ax.tick_params(axis="both", which="minor", labelsize=5.4, length=1.8, width=0.6, pad=2)
        ax.set_title(DATASETS[c], fontsize=9, pad=4)
        ax.set_xlabel("Iteration", fontsize=8, labelpad=1.5)
        ax.set_ylabel(YLABELS[r], fontsize=8, labelpad=3)
        sns.despine(ax=ax)
        handles = [Line2D([], [], color=COLORS[m], linewidth=1.0) for m in METHODS]
        ax.legend(handles, METHODS, loc="upper center", bbox_to_anchor=(0.5, -0.205), ncol=5,
                  fontsize=5.8, frameon=True, columnspacing=2.15, handlelength=2.2,
                  handletextpad=0.8, borderpad=0.4)

fig.text(0.5, 1 - 13 / H, SUPTITLE, ha="center", va="center", fontsize=13, fontweight="bold",
         family=["Liberation Serif", "DejaVu Serif"])
fig.add_artist(Line2D([10 / W, 976 / W], [1 - 25 / H, 1 - 25 / H], transform=fig.transFigure,
                      color="black", linewidth=1.5))

fig.savefig("out.png", dpi=100)
